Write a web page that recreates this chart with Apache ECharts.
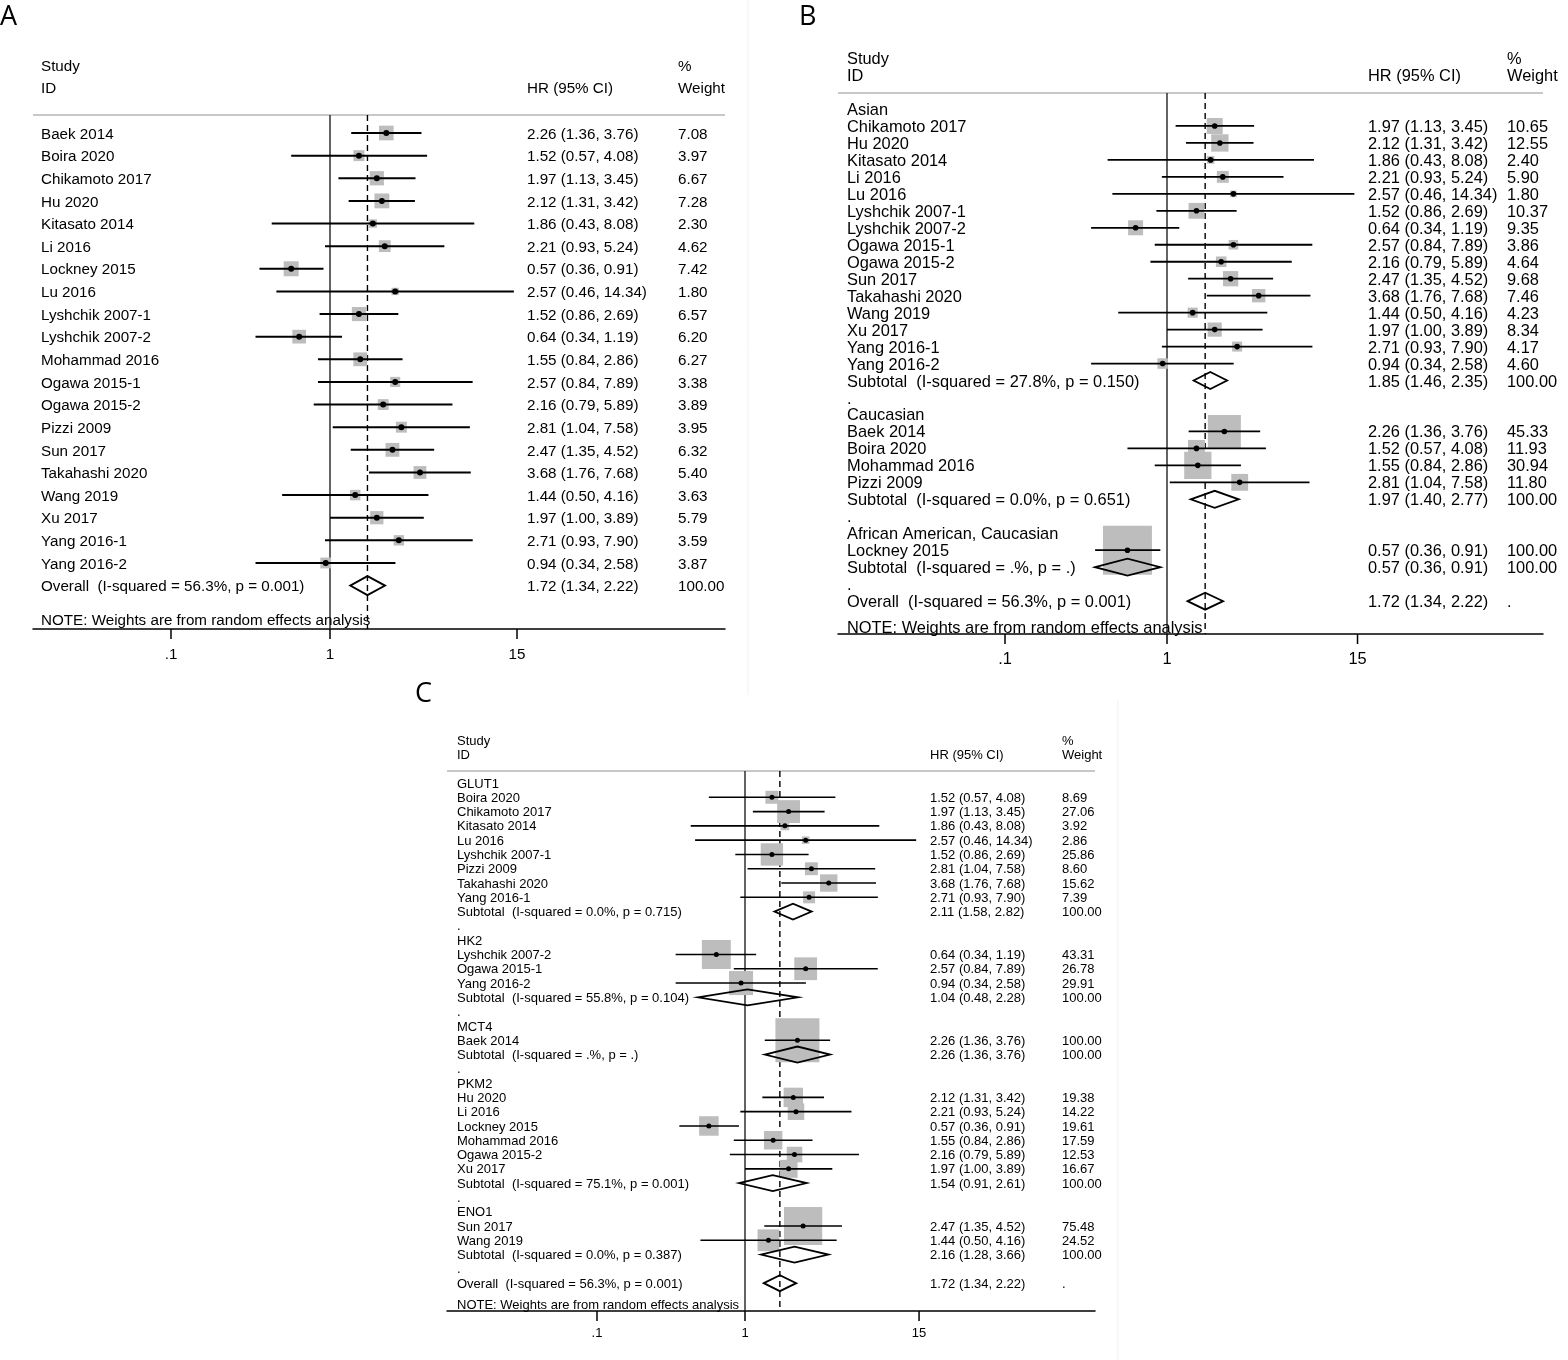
<!DOCTYPE html>
<html>
<head>
<meta charset="utf-8">
<title>Forest plots A-C</title>
<script src="https://cdn.jsdelivr.net/npm/echarts@6/dist/echarts.min.js"></script>
<style>
html,body{margin:0;padding:0;background:#fff}
#chart{width:1568px;height:1360px}
</style>
</head>
<body>
<div id="chart"></div>
<script>
// study estimates, order as listed in panel A
var studies = ['Baek 2014','Boira 2020','Chikamoto 2017','Hu 2020','Kitasato 2014','Li 2016','Lockney 2015','Lu 2016',
  'Lyshchik 2007-1','Lyshchik 2007-2','Mohammad 2016','Ogawa 2015-1','Ogawa 2015-2','Pizzi 2009','Sun 2017',
  'Takahashi 2020','Wang 2019','Xu 2017','Yang 2016-1','Yang 2016-2'];
var hr = [2.26,1.52,1.97,2.12,1.86,2.21,0.57,2.57,1.52,0.64,1.55,2.57,2.16,2.81,2.47,3.68,1.44,1.97,2.71,0.94];
var lo = [1.36,0.57,1.13,1.31,0.43,0.93,0.36,0.46,0.86,0.34,0.84,0.84,0.79,1.04,1.35,1.76,0.50,1.00,0.93,0.34];
var hi = [3.76,4.08,3.45,3.42,8.08,5.24,0.91,14.34,2.69,1.19,2.86,7.89,5.89,7.58,4.52,7.68,4.16,3.89,7.90,2.58];
var weightAll = [7.08,3.97,6.67,7.28,2.30,4.62,7.42,1.80,6.57,6.20,6.27,3.38,3.89,3.95,6.32,5.40,3.63,5.79,3.59,3.87];

var overall = [1.72, 1.34, 2.22];
var overallHet = 'I-squared = 56.3%, p = 0.001';

// panel B: by ethnicity
var ethnicGroups = ['Asian', 'Caucasian', 'African American, Caucasian'];
var ethnicStudies = [
  ['Chikamoto 2017','Hu 2020','Kitasato 2014','Li 2016','Lu 2016','Lyshchik 2007-1','Lyshchik 2007-2','Ogawa 2015-1',
   'Ogawa 2015-2','Sun 2017','Takahashi 2020','Wang 2019','Xu 2017','Yang 2016-1','Yang 2016-2'],
  ['Baek 2014','Boira 2020','Mohammad 2016','Pizzi 2009'],
  ['Lockney 2015']
];
var ethnicWeights = [
  [10.65,12.55,2.40,5.90,1.80,10.37,9.35,3.86,4.64,9.68,7.46,4.23,8.34,4.17,4.60],
  [45.33,11.93,30.94,11.80],
  [100.00]
];
var ethnicPooled = [[1.85,1.46,2.35],[1.97,1.40,2.77],[0.57,0.36,0.91]];
var ethnicHet = ['I-squared = 27.8%, p = 0.150','I-squared = 0.0%, p = 0.651','I-squared = .%, p = .'];

// panel C: by marker
var markerGroups = ['GLUT1','HK2','MCT4','PKM2','ENO1'];
var markerStudies = [
  ['Boira 2020','Chikamoto 2017','Kitasato 2014','Lu 2016','Lyshchik 2007-1','Pizzi 2009','Takahashi 2020','Yang 2016-1'],
  ['Lyshchik 2007-2','Ogawa 2015-1','Yang 2016-2'],
  ['Baek 2014'],
  ['Hu 2020','Li 2016','Lockney 2015','Mohammad 2016','Ogawa 2015-2','Xu 2017'],
  ['Sun 2017','Wang 2019']
];
var markerWeights = [
  [8.69,27.06,3.92,2.86,25.86,8.60,15.62,7.39],
  [43.31,26.78,29.91],
  [100.00],
  [19.38,14.22,19.61,17.59,12.53,16.67],
  [75.48,24.52]
];
var markerPooled = [[2.11,1.58,2.82],[1.04,0.48,2.28],[2.26,1.36,3.76],[1.54,0.91,2.61],[2.16,1.28,3.66]];
var markerHet = ['I-squared = 0.0%, p = 0.715','I-squared = 55.8%, p = 0.104','I-squared = .%, p = .',
  'I-squared = 75.1%, p = 0.001','I-squared = 0.0%, p = 0.387'];

var tickValues = [0.1, 1, 15];
var tickLabels = ['.1', '1', '15'];
var noteText = 'NOTE: Weights are from random effects analysis';

function ciText(a, b, c){ return a.toFixed(2) + ' (' + b.toFixed(2) + ', ' + c.toFixed(2) + ')'; }

function studyRow(name, w){
  var i = studies.indexOf(name);
  return {kind:'study', label:name, hr:hr[i], lo:lo[i], hi:hi[i], w:w, wText:w.toFixed(2)};
}
function pooledRow(label, est, wText){
  return {kind:'pooled', label:label, hr:est[0], lo:est[1], hi:est[2], wText:wText};
}
function plainRows(){
  var rows = studies.map(function(s, i){ return studyRow(s, weightAll[i]); });
  rows.push(pooledRow('Overall  (' + overallHet + ')', overall, '100.00'));
  return rows;
}
function groupedRows(groups, members, weights, pooled, het){
  var rows = [];
  groups.forEach(function(g, gi){
    rows.push({kind:'head', label:g});
    members[gi].forEach(function(s, si){ rows.push(studyRow(s, weights[gi][si])); });
    rows.push(pooledRow('Subtotal  (' + het[gi] + ')', pooled[gi], '100.00'));
    rows.push({kind:'blank', label:'.'});
  });
  rows.push(pooledRow('Overall  (' + overallHet + ')', overall, '.'));
  return rows;
}

var panelRows = [
  plainRows(),
  groupedRows(ethnicGroups, ethnicStudies, ethnicWeights, ethnicPooled, ethnicHet),
  groupedRows(markerGroups, markerStudies, markerWeights, markerPooled, markerHet)
];

// pixel layout of each panel
var layout = [
  {letter:'A', lx:0, ly:17, left:33, right:725, top:115, bottom:629, one:330, decade:159, row0:133, rowH:22.63,
   font:15.2, dy:1.5, cols:[41,527,678], k:5.5, dh:9.5, lw:2, dot:3, lab:24},
  {letter:'B', lx:799, ly:17, left:838, right:1543, top:93, bottom:634, one:1167, decade:162, row0:109, rowH:16.97,
   font:16.4, dy:1.5, cols:[847,1368,1507], k:4.9, dh:8.5, lw:1.8, dot:2.8, lab:24},
  {letter:'C', lx:415, ly:694, left:447, right:1095, top:771, bottom:1311, one:745, decade:148, row0:783, rowH:14.29,
   font:13, dy:1, cols:[457,930,1062], k:4.4, dh:8, lw:1.6, dot:2.5, lab:21}
];
var FONT = '"Liberation Sans", Arial, sans-serif';

var grids = [], xAxes = [], yAxes = [], series = [], graphics = [];

layout.forEach(function(L, pi){
  var rows = panelRows[pi];
  var yMin = (L.top - L.row0) / L.rowH;
  var yMax = (L.bottom - L.row0) / L.rowH;
  var fontStr = L.font + 'px ' + FONT;

  grids.push({left:L.left, top:L.top, width:L.right - L.left, height:L.bottom - L.top, containLabel:false, outerBoundsMode:'none'});
  xAxes.push({type:'log', logBase:10, gridIndex:pi,
    min:Math.pow(10, (L.left - L.one) / L.decade), max:Math.pow(10, (L.right - L.one) / L.decade),
    axisLine:{show:true, onZero:false, lineStyle:{color:'#000', width:1.5}},
    axisTick:{show:false}, axisLabel:{show:false}, splitLine:{show:false}});
  yAxes.push({type:'value', gridIndex:pi, min:yMin, max:yMax, inverse:true, show:false, splitLine:{show:false}});

  var base = {type:'custom', xAxisIndex:pi, yAxisIndex:pi, silent:true, encode:{x:0, y:1}, clip:false};

  // no-effect line and overall estimate line
  series.push(Object.assign({}, base, {z:1,
    data:[[1, yMin, yMax], [overall[0], yMin, yMax]],
    renderItem:function(params, api){
      var a = api.coord([api.value(0), api.value(1)]);
      var b = api.coord([api.value(0), api.value(2)]);
      var solid = params.dataIndex === 0;
      return {type:'line', shape:{x1:a[0], y1:a[1], x2:b[0], y2:b[1]},
        style:{stroke:solid ? '#222' : '#000', lineWidth:1.4, lineDash:solid ? null : [6, 4]}};
    }}));

  var studyData = [], pooledData = [];
  rows.forEach(function(r, ri){
    if (r.kind === 'study') studyData.push([r.hr, ri, r.lo, r.hi, r.w]);
    if (r.kind === 'pooled') pooledData.push([r.hr, ri, r.lo, r.hi]);
  });

  // weight boxes
  series.push(Object.assign({}, base, {z:2, data:studyData,
    renderItem:function(params, api){
      var c = api.coord([api.value(0), api.value(1)]);
      var s = L.k * Math.sqrt(api.value(4));
      return {type:'rect', shape:{x:c[0] - s / 2, y:c[1] - s / 2, width:s, height:s}, style:{fill:'#bdbdbd'}};
    }}));

  // confidence intervals and point estimates
  series.push(Object.assign({}, base, {z:3, data:studyData,
    renderItem:function(params, api){
      var c = api.coord([api.value(0), api.value(1)]);
      var a = api.coord([api.value(2), api.value(1)]);
      var b = api.coord([api.value(3), api.value(1)]);
      return {type:'group', children:[
        {type:'line', shape:{x1:a[0], y1:a[1], x2:b[0], y2:b[1]}, style:{stroke:'#000', lineWidth:L.lw}},
        {type:'circle', shape:{cx:c[0], cy:c[1], r:L.dot}, style:{fill:'#000'}}
      ]};
    }}));

  // pooled diamonds
  series.push(Object.assign({}, base, {z:4, data:pooledData,
    renderItem:function(params, api){
      var c = api.coord([api.value(0), api.value(1)]);
      var a = api.coord([api.value(2), api.value(1)]);
      var b = api.coord([api.value(3), api.value(1)]);
      return {type:'polygon', shape:{points:[[a[0], c[1]], [c[0], c[1] - L.dh], [b[0], c[1]], [c[0], c[1] + L.dh]]},
        style:{fill:'none', stroke:'#000', lineWidth:1.8}};
    }}));

  // text columns
  var texts = [
    {row:-3, col:0, t:'Study'}, {row:-2, col:0, t:'ID'}, {row:-2, col:1, t:'HR (95% CI)'},
    {row:-3, col:2, t:'%'}, {row:-2, col:2, t:'Weight'}
  ];
  rows.forEach(function(r, ri){
    texts.push({row:ri, col:0, t:r.label});
    if (r.hr !== undefined) {
      texts.push({row:ri, col:1, t:ciText(r.hr, r.lo, r.hi)});
      texts.push({row:ri, col:2, t:r.wText});
    }
  });
  texts.push({row:rows.length + 0.5, col:0, t:noteText});
  series.push(Object.assign({}, base, {z:5, data:texts.map(function(d){ return [1, d.row]; }),
    renderItem:function(params, api){
      var d = texts[params.dataIndex];
      var c = api.coord([1, api.value(1)]);
      return {type:'text', style:{x:L.cols[d.col], y:c[1] + L.dy, text:d.t, font:fontStr, fill:'#000',
        textAlign:'left', textVerticalAlign:'middle'}};
    }}));

  // axis ticks and labels
  series.push(Object.assign({}, base, {z:5, data:tickValues.map(function(v){ return [v, yMax]; }),
    renderItem:function(params, api){
      var c = api.coord([api.value(0), api.value(1)]);
      return {type:'group', children:[
        {type:'line', shape:{x1:c[0], y1:c[1], x2:c[0], y2:c[1] + 10}, style:{stroke:'#000', lineWidth:1.5}},
        {type:'text', style:{x:c[0], y:c[1] + L.lab + L.dy, text:tickLabels[params.dataIndex], font:fontStr, fill:'#000',
          textAlign:'center', textVerticalAlign:'middle'}}
      ]};
    }}));

  // header separator and panel letter
  graphics.push({type:'line', shape:{x1:L.left, y1:L.top, x2:L.right, y2:L.top}, style:{stroke:'#c8c8c8', lineWidth:2}});
  graphics.push({type:'text', style:{x:L.lx, y:L.ly, text:L.letter, font:'27px "Open Sans", "DejaVu Sans", sans-serif',
    fill:'#000', textVerticalAlign:'middle'}});
});

// faint edges of the pasted sub-figures
graphics.push({type:'line', shape:{x1:748, y1:0, x2:748, y2:695}, style:{stroke:'#f1f1f1', lineWidth:1}});
graphics.push({type:'line', shape:{x1:1118, y1:700, x2:1118, y2:1360}, style:{stroke:'#f1f1f1', lineWidth:1}});

var chart = echarts.init(document.getElementById('chart'));
chart.setOption({
  animation:false,
  backgroundColor:'#fff',
  grid:grids,
  xAxis:xAxes,
  yAxis:yAxes,
  series:series,
  graphic:graphics
});
</script>
</body>
</html>
